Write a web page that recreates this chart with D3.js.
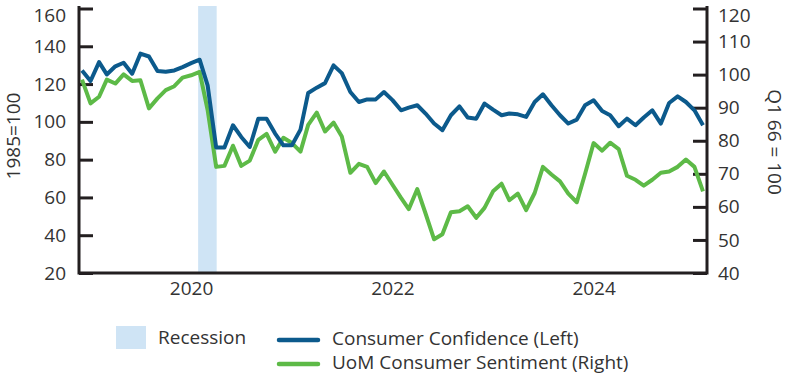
<!DOCTYPE html>
<html>
<head>
<meta charset="utf-8">
<script src="https://cdn.jsdelivr.net/npm/d3@7"></script>
<style>
  body { margin: 0; background: #fff; }
  #chart text { font-family: "Open Sans", sans-serif; fill: #333; }
</style>
</head>
<body>
<div id="chart"></div>
<script>
// monthly, Dec 2018 .. Feb 2025
const startMonth = "2018-12";
const confidence = [
    127.2, 121.6, 131.6, 125.1, 129.4, 131.3, 125.5, 136.1, 134.6, 126.9, 126.5, 127.2, 129.0,
    131.1, 132.9, 119.3, 86.4, 86.4, 98.2, 92.0, 86.7, 101.7, 101.7, 93.8, 87.6,
    87.6, 95.9, 115.3, 118.1, 120.5, 129.9, 125.8, 115.8, 110.5, 111.9, 111.9, 115.8,
    111.5, 106.1, 107.5, 108.8, 104.4, 99.1, 95.6, 103.5, 108.2, 102.3, 101.7, 109.7,
    106.5, 103.5, 104.4, 104.0, 102.6, 110.5, 114.6, 108.8, 103.5, 99.1, 101.2, 108.8,
    111.4, 105.7, 103.5, 97.7, 101.7, 98.2, 102.3, 106.1, 99.1, 110.0, 113.5, 110.5,
    106.1, 98.2
];
const sentiment = [
    98.5, 91.3, 93.3, 98.5, 97.3, 100.1, 98.1, 98.3, 89.8, 92.8, 95.3, 96.5, 99.1,
    99.8, 100.8, 89.3, 72.1, 72.4, 78.5, 72.4, 74.0, 80.3, 82.1, 76.7, 80.9,
    79.3, 76.7, 84.8, 88.5, 82.8, 85.5, 81.3, 70.3, 73.0, 72.1, 67.2, 70.7,
    66.7, 62.7, 59.3, 65.4, 58.0, 50.2, 51.7, 58.4, 58.7, 60.2, 56.7, 59.7,
    64.7, 67.0, 62.0, 64.0, 59.0, 64.2, 72.1, 69.8, 67.7, 64.0, 61.4, 70.0,
    79.3, 77.0, 79.4, 77.5, 69.4, 68.2, 66.4, 68.2, 70.3, 70.7, 72.1, 74.3,
    72.1, 64.7
];
const recession = ["2020-02-01", "2020-04-01"];
const yearTicks = ["2020-01-01", "2022-01-01", "2024-01-01"];
const leftTicks = [20, 40, 60, 80, 100, 120, 140, 160];
const rightTicks = [40, 50, 60, 70, 80, 90, 100, 110, 120];

const parse = d3.timeParse("%Y-%m-%d");
const first = d3.timeParse("%Y-%m")(startMonth);
const months = confidence.map((v, i) => d3.timeMonth.offset(first, i));

const width = 791, height = 377;
const plotLeft = 79, plotRight = 707, plotTop = 8.5, plotBottom = 273;
const blue = "#0c5a8c", green = "#5dba47", shade = "#cfe4f5", ink = "#231f20";
const fontSize = "19px";

const svg = d3.select("#chart").append("svg")
    .attr("width", width)
    .attr("height", height);

const x = d3.scaleTime()
    .domain([months[0], months[months.length - 1]])
    .range([82, 703]);
const yL = d3.scaleLinear().domain([20, 160]).range([plotBottom, plotTop]);
const yR = d3.scaleLinear().domain([40, 120]).range([plotBottom, plotTop]);

// recession band
svg.append("rect")
    .attr("x", x(parse(recession[0])) - 1.5)
    .attr("y", 6)
    .attr("width", x(parse(recession[1])) - x(parse(recession[0])) + 2)
    .attr("height", plotBottom - 6)
    .attr("fill", shade);

// axes (ticks point inward)
const axisL = svg.append("g")
    .attr("transform", `translate(${plotLeft},0)`)
    .call(d3.axisLeft(yL).tickValues(leftTicks).tickSize(-14).tickPadding(13));
const axisR = svg.append("g")
    .attr("transform", `translate(${plotRight},0)`)
    .call(d3.axisRight(yR).tickValues(rightTicks).tickSize(-14).tickPadding(11));
const axisB = svg.append("g")
    .attr("transform", `translate(0,${plotBottom})`)
    .call(d3.axisBottom(x).tickValues(yearTicks.map(parse)).tickSize(0).tickPadding(9)
        .tickFormat(d3.timeFormat("%Y")));

[axisL, axisR, axisB].forEach(a => {
    a.select(".domain").remove();
    a.selectAll("line").attr("stroke", ink).attr("stroke-width", 3);
    a.selectAll("text").attr("font-size", fontSize);
});
// keep the top labels inside the picture
axisL.selectAll(".tick text").filter(d => d === 160).attr("dy", "0.7em");
axisR.selectAll(".tick text").filter(d => d === 120).attr("dy", "0.7em");

// frame lines
svg.append("path")
    .attr("d", `M${plotLeft},6V${plotBottom}H${plotRight}V6`)
    .attr("fill", "none")
    .attr("stroke", ink)
    .attr("stroke-width", 3);

// lines
const lineL = d3.line().x((d, i) => x(months[i])).y(d => yL(d));
const lineR = d3.line().x((d, i) => x(months[i])).y(d => yR(d));

svg.append("path")
    .datum(sentiment)
    .attr("d", lineR)
    .attr("fill", "none")
    .attr("stroke", green)
    .attr("stroke-width", 4)
    .attr("stroke-linejoin", "round");

svg.append("path")
    .datum(confidence)
    .attr("d", lineL)
    .attr("fill", "none")
    .attr("stroke", blue)
    .attr("stroke-width", 4)
    .attr("stroke-linejoin", "round");

// axis titles
svg.append("text")
    .attr("transform", "translate(20,136) rotate(-90)")
    .attr("text-anchor", "middle")
    .attr("font-size", fontSize)
    .text("1985=100");
svg.append("text")
    .attr("transform", "translate(768,142) rotate(90)")
    .attr("text-anchor", "middle")
    .attr("font-size", fontSize)
    .text("Q1 66 = 100");

// legend
const legend = svg.append("g");
legend.append("rect")
    .attr("x", 116).attr("y", 326)
    .attr("width", 30).attr("height", 23)
    .attr("fill", shade);
legend.append("text")
    .attr("x", 158).attr("y", 337).attr("dy", "0.35em")
    .attr("font-size", fontSize)
    .text("Recession");

const items = [
    { label: "Consumer Confidence (Left)", color: blue, y: 340 },
    { label: "UoM Consumer Sentiment (Right)", color: green, y: 364 }
];
items.forEach(d => {
    legend.append("line")
        .attr("x1", 279).attr("x2", 318)
        .attr("y1", d.y).attr("y2", d.y)
        .attr("stroke", d.color)
        .attr("stroke-width", 4.5)
        .attr("stroke-linecap", "round");
    legend.append("text")
        .attr("x", 332).attr("y", d.y - 2).attr("dy", "0.35em")
        .attr("font-size", fontSize)
        .text(d.label);
});
</script>
</body>
</html>
